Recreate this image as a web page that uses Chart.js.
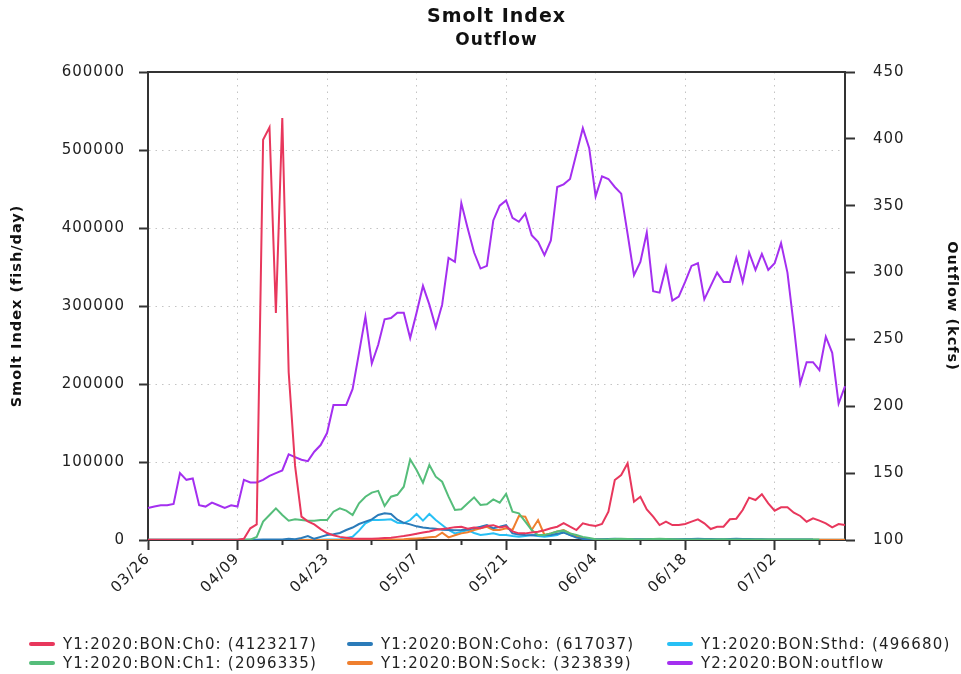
<!DOCTYPE html>
<html>
<head>
<meta charset="utf-8">
<script src="https://cdn.jsdelivr.net/npm/chart.js@4.4.1/dist/chart.umd.min.js"></script>
<style>
  body { margin: 0; background: #fff; }
  #wrap { position: relative; width: 961px; height: 674px; }
  .item { position: absolute; font: 15px "DejaVu Sans", sans-serif; letter-spacing: 1.2px; color: #222; white-space: nowrap; line-height: 18px; }
  .item .sw { display: inline-block; width: 26px; height: 4px; border-radius: 2px; vertical-align: middle; margin-right: 8px; position: relative; top: -1px; }
</style>
</head>
<body>
<div id="wrap">
  <canvas id="chart" width="961" height="674"></canvas>
  <div id="legend"></div>
</div>
<script>
// Days run from 03/26 to 07/13 (one point per day)
const tickLabels = ['03/26', '04/09', '04/23', '05/07', '05/21', '06/04', '06/18', '07/02'];
const days = [];
for (let i = 0; i < 110; i++) {
  const d = new Date(2020, 2, 26 + i);
  days.push(String(d.getMonth() + 1).padStart(2, '0') + '/' + String(d.getDate()).padStart(2, '0'));
}

const ch0 = [
  300, 300, 300, 300, 300, 300, 300, 300, 300, 300, 300, 300, 300, 300, 400,
  1500, 15000, 20000, 513000, 529000, 291000, 541000, 215000, 95000, 30000,
  24000, 20000, 14000, 9000, 6000, 4000, 3000, 2000, 1500, 1500, 1500, 2000, 2500, 3000, 4000,
  5000, 6500, 8000, 9500, 11000, 13000, 14000, 15000, 16500, 17000,
  14500, 16000, 15000, 18000, 19000, 16000, 17500, 11000, 8500, 8500,
  9500, 10500, 12500, 15000, 17000, 21500, 17000, 12800, 21400, 19200,
  18000, 20500, 36300, 77000, 83300, 98300, 49100, 55500, 39300, 29900,
  19200, 23500, 19200, 19200, 20500, 23500, 26500, 21400, 14100, 17000,
  17000, 26500, 27300, 38500, 54300, 51300, 58600, 47000, 37600, 41900,
  41900, 35000, 30800, 23500, 27800, 24800, 21400, 16200, 20500, 19200
];
const ch1 = [
  300, 300, 300, 300, 300, 300, 300, 300, 300, 300, 300, 300, 300, 300, 300, 300,
  500, 4000, 23500, 32000, 40600, 32000, 24800, 26500, 25600, 24800,
  24800, 25600, 25600, 36300, 40600, 37600, 32000, 47000, 55500, 60700,
  63000, 43600, 55500, 58000, 68300, 103400, 89700, 73500, 96200, 81200,
  74700, 55500, 38500, 39300, 47000, 54700, 44900, 45700, 52100, 47800,
  59000, 36300, 34200, 23500, 12800, 6400, 6400, 8500, 11000, 12000,
  8500, 6400, 4000, 2500, 1000, 800, 900, 1200, 1500, 1200,
  900, 800, 1000, 1200, 1500, 1300, 1000, 800, 700, 800,
  700, 600, 700, 800, 900, 800, 700, 600, 600, 700,
  800, 700, 600, 600, 500, 600, 700, 600, 500, 600
];
const coho = [
  200, 200, 200, 200, 200, 200, 200, 200, 200, 200, 200, 200, 200, 200, 200,
  300, 300, 400, 500, 600, 700, 800, 1500, 1000, 2500,
  5000, 1500, 4000, 6400, 7500, 9000, 12800, 16000, 20500, 23500,
  26500, 32000, 34200, 33300, 26000, 22000, 20000, 17500, 16000, 15000,
  14500, 13000, 12800, 12500, 12800, 13500, 15000, 17000, 19200, 15000,
  17000, 19200, 8500, 7000, 6400, 6000, 6400, 6000, 6400, 8000,
  9400, 6400, 3000, 1500, 1000, 900, 1000, 1200, 1500, 1300,
  1100, 1000, 900, 1000, 1200, 1400, 1300, 1100, 1000, 1200,
  1300, 1500, 1400, 1200, 1000, 1100, 1300, 1500, 1400, 1200,
  1000, 900, 800, 700, 600, 700, 800, 700, 600, 600
];
const sock = [
  0, 0, 0, 0, 0, 0, 0, 0, 0, 0, 0, 0, 0, 0, 0, 0, 0, 0, 0, 0,
  0, 0, 0, 0, 0, 0, 0, 0, 0, 0, 100, 200, 200, 300, 300, 400, 500, 600, 700, 800,
  1000, 1500, 2000, 2500, 3500, 4200, 9400, 3400, 6000, 8500,
  10000, 12800, 15000, 17000, 12800, 12800, 15000, 12800, 30800, 29900,
  12800, 25600, 6400, 8500, 11000, 12800, 8500, 5000, 3000, 1500,
  800, 600, 500, 500, 400, 400, 300, 300, 300, 300,
  200, 200, 200, 200, 200, 200, 200, 200, 200, 200,
  200, 200, 200, 200, 200, 200, 200, 200, 200, 200,
  300, 400, 300, 200, 200, 200, 200, 200, 200, 200
];
const sthd = [
  0, 0, 0, 0, 0, 0, 0, 0, 0, 0, 0, 0, 0, 0, 0, 0, 0, 0, 0, 0,
  0, 0, 0, 0, 100, 200, 300, 400, 500, 700,
  1000, 2500, 4200, 12000, 21400, 25600, 25600, 26000, 26500, 22200,
  21400, 25600, 33300, 24800, 33300, 25600, 19200, 12800, 8500, 10600,
  12800, 9000, 6400, 7500, 8500, 6400, 6400, 5000, 4200, 5000,
  6400, 5000, 4200, 5000, 6400, 10600, 6400, 4000, 2000, 1000,
  500, 400, 400, 300, 300, 300, 300, 300, 300, 300,
  300, 300, 300, 300, 300, 300, 300, 300, 300, 300,
  300, 300, 300, 300, 300, 300, 300, 300, 300, 300,
  300, 300, 300, 300, 300, 300, 300, 300, 300, 300
];
const outflow = [
  124, 125, 126, 126, 127, 150, 145, 146, 126, 125,
  128, 126, 124, 126, 125, 145, 143, 143, 145, 148,
  150, 152, 164, 162, 160, 159, 166, 171, 180, 201,
  201, 201, 213, 240, 267, 232, 246, 265, 266, 270,
  270, 251, 270, 290, 276, 259, 276, 311, 308, 352,
  333, 315, 303, 305, 339, 350, 354, 341, 338, 344,
  328, 323, 313, 324, 364, 366, 370, 389, 408, 393,
  357, 372, 370, 364, 359, 329, 298, 308, 330, 286,
  285, 304, 279, 282, 293, 305, 307, 280, 290, 300,
  293, 293, 311, 293, 315, 302, 314, 302, 307, 322,
  300, 260, 217, 233, 233, 227, 252, 240, 202, 215
];

const series = [
  { label: 'Y1:2020:BON:Ch0: (4123217)', data: ch0, color: '#e8375c', axis: 'y' },
  { label: 'Y1:2020:BON:Ch1: (2096335)', data: ch1, color: '#55bd7a', axis: 'y' },
  { label: 'Y1:2020:BON:Coho: (617037)', data: coho, color: '#2b7bb9', axis: 'y' },
  { label: 'Y1:2020:BON:Sock: (323839)', data: sock, color: '#ef7f2e', axis: 'y' },
  { label: 'Y1:2020:BON:Sthd: (496680)', data: sthd, color: '#27c0f5', axis: 'y' },
  { label: 'Y2:2020:BON:outflow', data: outflow, color: '#a42ff0', axis: 'y2' }
];

Chart.defaults.font.family = '"DejaVu Sans", sans-serif';
Chart.defaults.color = '#222';

// Java-style rendering gives every glyph a little extra advance
const spacing = {
  id: 'spacing',
  beforeUpdate(chart) { chart.ctx.letterSpacing = '1px'; },
  beforeDraw(chart) { chart.ctx.letterSpacing = '1px'; }
};

// top edge of the plot frame
const frame = {
  id: 'frame',
  afterDraw(chart) {
    const { ctx, chartArea: a } = chart;
    ctx.save();
    ctx.strokeStyle = '#333';
    ctx.lineWidth = 2;
    ctx.beginPath();
    ctx.moveTo(a.left - 1, a.top);
    ctx.lineTo(a.right + 1, a.top);
    ctx.stroke();
    ctx.restore();
  }
};

const isMajor = i => tickLabels.includes(days[i]);

new Chart(document.getElementById('chart'), {
  type: 'line',
  data: {
    labels: days,
    datasets: series.map(s => ({
      label: s.label,
      data: s.data,
      yAxisID: s.axis,
      borderColor: s.color,
      backgroundColor: s.color,
      borderWidth: 2,
      pointRadius: 0,
      tension: 0,
      fill: false
    }))
  },
  options: {
    responsive: false,
    animation: false,
    layout: { padding: 0 },
    plugins: {
      legend: { display: false },
      tooltip: { enabled: false },
      title: {
        display: true, text: 'Smolt Index', fullSize: false, color: '#111',
        font: { size: 19, weight: 'bold' }, padding: { top: 6, bottom: 0 }
      },
      subtitle: {
        display: true, text: 'Outflow', fullSize: false, color: '#111',
        font: { size: 17, weight: 'bold' }, padding: { top: 2, bottom: 20.8 }
      }
    },
    scales: {
      x: {
        type: 'category',
        ticks: {
          autoSkip: false, maxRotation: 45, minRotation: 45, padding: 0,
          font: { size: 15 }, color: '#222',
          callback: (v, i) => isMajor(i) ? days[i] : ''
        },
        grid: {
          color: c => isMajor(c.index) ? '#c4c4c4' : 'rgba(0,0,0,0)',
          tickColor: c => c.index % 7 === 0 ? '#333' : 'rgba(0,0,0,0)',
          tickBorderDash: c => isMajor(c.index) ? [] : [4, 30],
          tickLength: 10, tickWidth: 2
        },
        border: { color: '#333', width: 2, dash: [1.5, 5] },
        afterFit: s => { s.height = 134; }
      },
      y: {
        position: 'left', min: 0, max: 600000,
        ticks: { stepSize: 100000, padding: 14, font: { size: 15 }, color: '#222', callback: v => String(v) },
        grid: { color: '#c4c4c4', tickColor: '#333', tickLength: 9, tickWidth: 2 },
        border: { color: '#333', width: 2, dash: [1.5, 5] },
        title: {
          display: true, text: 'Smolt Index (fish/day)', color: '#111',
          font: { size: 14.5, weight: 'bold' }, padding: { top: 9, bottom: 0 }
        },
        afterFit: s => { s.width = 148; }
      },
      y2: {
        position: 'right', min: 100, max: 450,
        ticks: { stepSize: 50, padding: 18, font: { size: 15 }, color: '#222' },
        grid: { drawOnChartArea: false, tickColor: '#333', tickLength: 10, tickWidth: 2 },
        border: { color: '#333', width: 2 },
        title: {
          display: true, text: 'Outflow (kcfs)', color: '#111',
          font: { size: 14.5, weight: 'bold' }, padding: { top: 0.5, bottom: 0 }
        },
        afterFit: s => { s.width = 116; }
      }
    }
  },
  plugins: [spacing, frame]
});

// legend laid out in three columns, two rows, like the original
const legendOrder = [0, 2, 4, 1, 3, 5];
const colX = [29, 347, 667];
const rowY = [635, 654];
const legend = document.getElementById('legend');
legendOrder.forEach((k, n) => {
  const s = series[k];
  const el = document.createElement('div');
  el.className = 'item';
  el.style.left = colX[n % 3] + 'px';
  el.style.top = rowY[Math.floor(n / 3)] + 'px';
  el.innerHTML = '<span class="sw" style="background:' + s.color + '"></span>' + s.label;
  legend.appendChild(el);
});
</script>
</body>
</html>
